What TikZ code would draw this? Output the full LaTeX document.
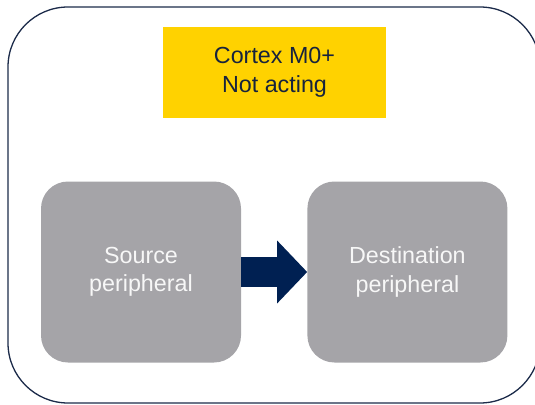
\documentclass[tikz,border=0pt]{standalone}
\usepackage{fontspec}
\setmainfont{Liberation Sans}
\usetikzlibrary{positioning,arrows.meta}
\definecolor{stnavy}{HTML}{002052}
\definecolor{stframe}{HTML}{1C2B4A}
\definecolor{styellow}{HTML}{FFD200}
\definecolor{stgrey}{HTML}{A5A4A8}
\definecolor{sttext}{HTML}{17233D}
\tikzset{
  periph/.style={fill=stgrey, rounded corners=27pt, minimum width=200pt, minimum height=181pt,
    inner sep=0pt, align=center, text=white!97!black, font=\fontsize{23.3}{28.5}\selectfont},
  corebox/.style={fill=styellow, minimum width=223pt, minimum height=91pt,
    inner sep=0pt, align=center, text=sttext, font=\fontsize{23.3}{28.5}\selectfont}
}
\begin{document}
\begin{tikzpicture}[x=1pt,y=-1pt]
\clip (0,0) rectangle (535,404);
\draw[stframe, line width=1.3pt, rounded corners=60pt] (8,7) rectangle (540,403);
\node[corebox] (core) at (274.5,72.5) {Cortex M0+\\Not acting};
\node[periph] (src) at (141,272) {Source\\peripheral};
\node[periph, right=66pt of src] (dst) {Destination\\peripheral};
% transfer arrow
\draw[stnavy, line width=30pt, -{Triangle[length=30pt,width=61pt]}] (src.east) -- (dst.west);
\end{tikzpicture}
\end{document}
